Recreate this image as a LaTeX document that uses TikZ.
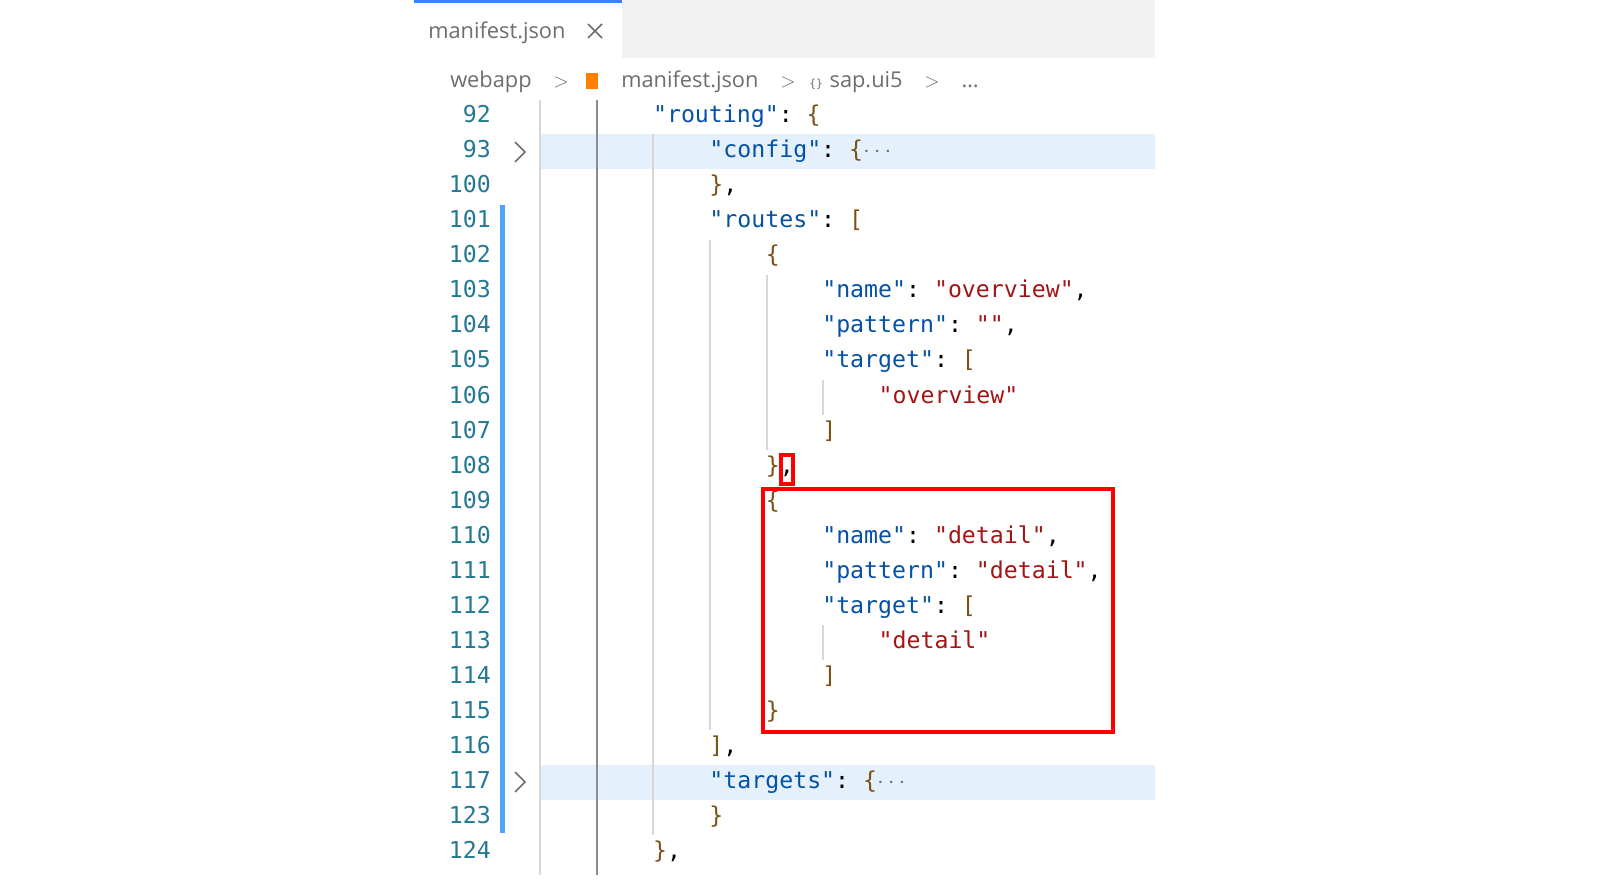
\documentclass[tikz,border=0pt]{standalone}
\usepackage{fontspec}
\setmainfont{Open Sans}
\setmonofont{DejaVu Sans Mono}
\usetikzlibrary{positioning}
\definecolor{jkeyc}{RGB}{4,81,165}
\definecolor{jstrc}{RGB}{163,21,21}
\definecolor{jbrc}{RGB}{125,80,20}
\definecolor{lnumc}{RGB}{35,120,147}
\definecolor{guidec}{RGB}{215,215,215}
\definecolor{hlc}{RGB}{228,240,252}
\definecolor{uigray}{RGB}{110,110,110}
\newcommand\jkey[1]{\textcolor{jkeyc}{#1}}
\newcommand\jstr[1]{\textcolor{jstrc}{#1}}
\newcommand\jbr[1]{\textcolor{jbrc}{#1}}
\newcommand\jdots{\textcolor{uigray}{$\cdots$}}
\tikzset{
  code/.style={anchor=base west, inner sep=0pt, font=\ttfamily\fontsize{16.5}{18}\selectfont},
  lnum/.style={anchor=base east, inner sep=0pt, text=lnumc, font=\ttfamily\fontsize{16.5}{18}\selectfont},
  ui/.style={anchor=base west, inner sep=0pt, text=uigray, font=\fontsize{15.5}{18}\selectfont},
  guide/.style={guidec, line width=1pt},
  chev/.style={uigray, line width=1.2pt},
  redbox/.style={red, line width=2.5pt}
}
\begin{document}
\begin{tikzpicture}[x=0.025cm, y=-0.025cm]
\useasboundingbox (0,0) rectangle (1600,892);
\fill[white] (0,0) rectangle (1600,892);
% tab bar
\fill[black!5] (622,0) rectangle (1155,58);
\fill[blue!60!cyan!80] (414,0) rectangle (622,3);
\node[ui] (tab) at (428,39) {manifest.json};
\draw[chev] (588,24) -- (602,38) (588,38) -- (602,24);
% breadcrumbs
\node[ui] (bc1) at (450,88) {webapp\quad$>$};
\fill[orange] (586,73) rectangle (598,89);
\node[ui] (bc2) at (621,88) {manifest.json\quad$>$};
\node[ui] (bc3) at (809,88) {\ttfamily\footnotesize\{\}\ \rmfamily\fontsize{15.5}{18}\selectfont sap.ui5\quad$>$\quad\dots};
% highlighted rows
\fill[hlc] (540,134) rectangle (1155,169);
\fill[hlc] (540,765) rectangle (1155,800);
% blue change bar
\fill[blue!50!cyan!70] (500,205) rectangle (505,833);
% indent guides
\draw[guide] (540,100) -- (540,875);
\draw[black!45, line width=1pt] (597,100) -- (597,875);
\draw[guide] (653,134) -- (653,835);
\draw[guide] (710,240) -- (710,730);
\draw[guide] (767,275) -- (767,450);
\draw[guide] (823,380) -- (823,415);
\draw[guide] (823,625) -- (823,660);
% folding chevrons
\draw[chev] (515,142) -- (525,152) -- (515,162);
\draw[chev] (515,772) -- (525,782) -- (515,792);
% code lines
\foreach \n/\ind/\txt [count=\i from 0] in {
  92/8/{\jkey{"routing"}: \jbr{\{}},
  93/12/{\jkey{"config"}: \jbr{\{}\jdots},
  100/12/{\jbr{\}},},
  101/12/{\jkey{"routes"}: \jbr{[}},
  102/16/{\jbr{\{}},
  103/20/{\jkey{"name"}: \jstr{"overview"},},
  104/20/{\jkey{"pattern"}: \jstr{""},},
  105/20/{\jkey{"target"}: \jbr{[}},
  106/24/{\jstr{"overview"}},
  107/20/{\jbr{]}},
  108/16/{\jbr{\}},},
  109/16/{\jbr{\{}},
  110/20/{\jkey{"name"}: \jstr{"detail"},},
  111/20/{\jkey{"pattern"}: \jstr{"detail"},},
  112/20/{\jkey{"target"}: \jbr{[}},
  113/24/{\jstr{"detail"}},
  114/20/{\jbr{]}},
  115/16/{\jbr{\}}},
  116/12/{\jbr{]},},
  117/12/{\jkey{"targets"}: \jbr{\{}\jdots},
  123/12/{\jbr{\}}},
  124/8/{\jbr{\}},}} {
  \node[lnum] (num\n) at (491,123+35*\i) {\n};
  \node[code] (line\n) at (540+14.1*\ind,123+35*\i) {\txt};
}
% highlight boxes
\draw[redbox] (781,455) rectangle (793,484);
\draw[redbox] (763,489) rectangle (1113,732);
\end{tikzpicture}
\end{document}
